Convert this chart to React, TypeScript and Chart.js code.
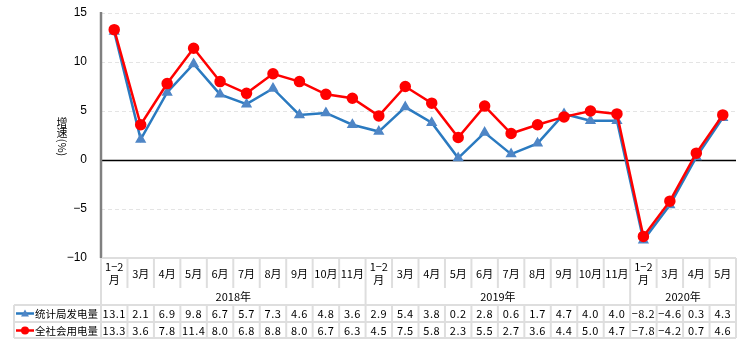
import React, { useEffect, useRef } from "react";
import { Chart, registerables } from "chart.js";

Chart.register(...registerables);

const months = [
  "1-2月", "3月", "4月", "5月", "6月", "7月", "8月", "9月", "10月", "11月",
  "1-2月", "3月", "4月", "5月", "6月", "7月", "8月", "9月", "10月", "11月",
  "1-2月", "3月", "4月", "5月",
];
const years = ["2018年", "2019年", "2020年"];
const yearSpans = [10, 10, 4];
const seriesNames = ["统计局发电量", "全社会用电量"];
const statGen = [13.1, 2.1, 6.9, 9.8, 6.7, 5.7, 7.3, 4.6, 4.8, 3.6, 2.9, 5.4, 3.8, 0.2, 2.8, 0.6, 1.7, 4.7, 4.0, 4.0, -8.2, -4.6, 0.3, 4.3];
const socialUse = [13.3, 3.6, 7.8, 11.4, 8.0, 6.8, 8.8, 8.0, 6.7, 6.3, 4.5, 7.5, 5.8, 2.3, 5.5, 2.7, 3.6, 4.4, 5.0, 4.7, -7.8, -4.2, 0.7, 4.6];
const yTicks = [15, 10, 5, 0, -5, -10];

const BLUE = "#2a7ac0";
const BLUE_PT = "#4f86c6";
const RED = "#ff0000";
const GRID = "#dedede";
const FONT = "'Noto Sans CJK SC', 'Liberation Sans', sans-serif";

const fmt = (v: number) => v.toFixed(1).replace("-", "−");

const tablePlugin = {
  id: "tablePlugin",
  beforeDatasetsDraw(chart: any) {
    const { ctx, chartArea, scales } = chart;
    const y = scales.y;
    const { left, right } = chartArea;
    ctx.save();
    for (const t of yTicks) {
      const py = Math.round(y.getPixelForValue(t)) + 0.5;
      if (t === 0) {
        ctx.strokeStyle = "#000";
        ctx.lineWidth = 1.5;
        ctx.setLineDash([]);
      } else if (t === -10) {
        continue;
      } else {
        ctx.strokeStyle = "#e4e4e4";
        ctx.lineWidth = 1;
        ctx.setLineDash([4, 3]);
      }
      ctx.beginPath();
      ctx.moveTo(left, py);
      ctx.lineTo(right, py);
      ctx.stroke();
    }
    ctx.setLineDash([]);
    ctx.strokeStyle = "#808080";
    ctx.lineWidth = 2.5;
    ctx.beginPath();
    ctx.moveTo(left, y.getPixelForValue(15) - 1);
    ctx.lineTo(left, y.getPixelForValue(-10));
    ctx.stroke();
    ctx.restore();
  },
  afterDraw(chart: any) {
    const { ctx, chartArea, scales } = chart;
    const x = scales.x;
    const { left, right, bottom } = chartArea;
    const n = months.length;
    const cw = (right - left) / n;
    const r0 = bottom;
    const r1 = r0 + 30;
    const r2 = r1 + 17;
    const r3 = r2 + 17;
    const r4 = r3 + 16;
    const legL = 14;
    ctx.save();
    ctx.strokeStyle = GRID;
    ctx.lineWidth = 2;
    const hl = (x0: number, x1: number, yy: number) => {
      ctx.beginPath(); ctx.moveTo(x0, yy); ctx.lineTo(x1, yy); ctx.stroke();
    };
    const vl = (xx: number, y0: number, y1: number) => {
      ctx.beginPath(); ctx.moveTo(xx, y0); ctx.lineTo(xx, y1); ctx.stroke();
    };
    hl(left + 1, right, r0);
    hl(legL, right, r2);
    hl(legL, right, r3);
    hl(legL, right, r4);
    vl(legL, r2, r4);
    vl(left, r0, r4);
    vl(right, r0, r4);
    for (let i = 1; i < n; i++) {
      const xx = left + i * cw;
      vl(xx, r0, r1);
      vl(xx, r2, r4);
    }
    let acc = 0;
    for (let k = 0; k < yearSpans.length - 1; k++) {
      acc += yearSpans[k];
      vl(left + acc * cw, r1, r2);
    }
    ctx.fillStyle = "#000";
    ctx.textAlign = "center";
    ctx.textBaseline = "middle";
    ctx.font = `11px ${FONT}`;
    months.forEach((m, i) => {
      const cx = x.getPixelForValue(i);
      if (m.startsWith("1-2")) {
        ctx.fillText("1−2", cx, r0 + 9);
        ctx.fillText("月", cx, r0 + 22);
      } else {
        ctx.fillText(m, cx, r0 + 16);
      }
    });
    acc = 0;
    years.forEach((yr, k) => {
      const x0 = left + acc * cw;
      acc += yearSpans[k];
      const x1 = left + acc * cw;
      ctx.fillText(yr, (x0 + x1) / 2, r1 + 9);
    });
    (ctx as any).letterSpacing = "0.5px";
    const rows = [statGen, socialUse];
    rows.forEach((vals, ri) => {
      const cy = (ri === 0 ? r2 : r3) + 8.5;
      vals.forEach((v, i) => {
        ctx.fillText(fmt(v), x.getPixelForValue(i), cy);
      });
    });
    (ctx as any).letterSpacing = "0px";
    ctx.textAlign = "left";
    ctx.font = `10.5px ${FONT}`;
    seriesNames.forEach((name, ri) => {
      const cy = (ri === 0 ? r2 : r3) + 8.5;
      const col = ri === 0 ? BLUE : RED;
      ctx.strokeStyle = col;
      ctx.lineWidth = 2.5;
      ctx.beginPath(); ctx.moveTo(16, cy); ctx.lineTo(34, cy); ctx.stroke();
      ctx.fillStyle = ri === 0 ? BLUE_PT : RED;
      ctx.beginPath();
      if (ri === 0) {
        ctx.moveTo(25, cy - 4); ctx.lineTo(29, cy + 3); ctx.lineTo(21, cy + 3); ctx.closePath();
      } else {
        ctx.arc(25, cy, 4, 0, Math.PI * 2);
      }
      ctx.fill();
      ctx.fillStyle = "#000";
      ctx.fillText(name, 35, cy + 0.5);
    });
    ctx.font = `11px ${FONT}`;
    ctx.textAlign = "center";
    ctx.fillText("增", 62, 123);
    ctx.fillText("速", 62, 133);
    ctx.translate(62, 147.5);
    ctx.rotate(Math.PI / 2);
    ctx.fillText("(%)", 0, 0);
    ctx.restore();
  },
};

export default function App() {
  const ref = useRef<HTMLCanvasElement>(null);
  useEffect(() => {
    const chart = new Chart(ref.current!, {
      type: "line",
      data: {
        labels: months,
        datasets: [
          {
            label: seriesNames[0],
            data: statGen,
            borderColor: BLUE,
            backgroundColor: BLUE_PT,
            pointBackgroundColor: BLUE_PT,
            pointBorderColor: BLUE_PT,
            pointStyle: "triangle",
            pointRadius: 4,
            borderWidth: 2.5,
            tension: 0,
            order: 2,
          },
          {
            label: seriesNames[1],
            data: socialUse,
            borderColor: RED,
            backgroundColor: RED,
            pointBackgroundColor: RED,
            pointBorderColor: RED,
            pointStyle: "circle",
            pointRadius: 4.5,
            borderWidth: 2.5,
            tension: 0,
            order: 1,
          },
        ],
      },
      options: {
        responsive: false,
        animation: false,
        layout: { autoPadding: false, padding: { top: 13, bottom: 98, right: 12, left: 0 } },
        plugins: { legend: { display: false }, tooltip: { enabled: false } },
        scales: {
          x: { type: "category", offset: true, display: false },
          y: {
            min: -10,
            max: 15,
            afterFit: (s: any) => { s.width = 101; s.paddingTop = 0; s.paddingBottom = 0; },
            afterBuildTicks: (s: any) => { s.ticks = yTicks.map((v) => ({ value: v })); },
            grid: { display: false, drawTicks: false },
            border: { display: false },
            ticks: {
              padding: 14,
              color: "#000",
              font: { size: 12, family: "'Liberation Sans', Arial, sans-serif" },
              callback: (v: any) => String(v).replace("-", "−"),
            },
          },
        },
      },
      plugins: [tablePlugin],
    });
    return () => chart.destroy();
  }, []);
  return (
    <div style={{ position: "fixed", left: 0, top: 0, background: "#fff" }}>
      <canvas ref={ref} width={748} height={356} />
    </div>
  );
}
